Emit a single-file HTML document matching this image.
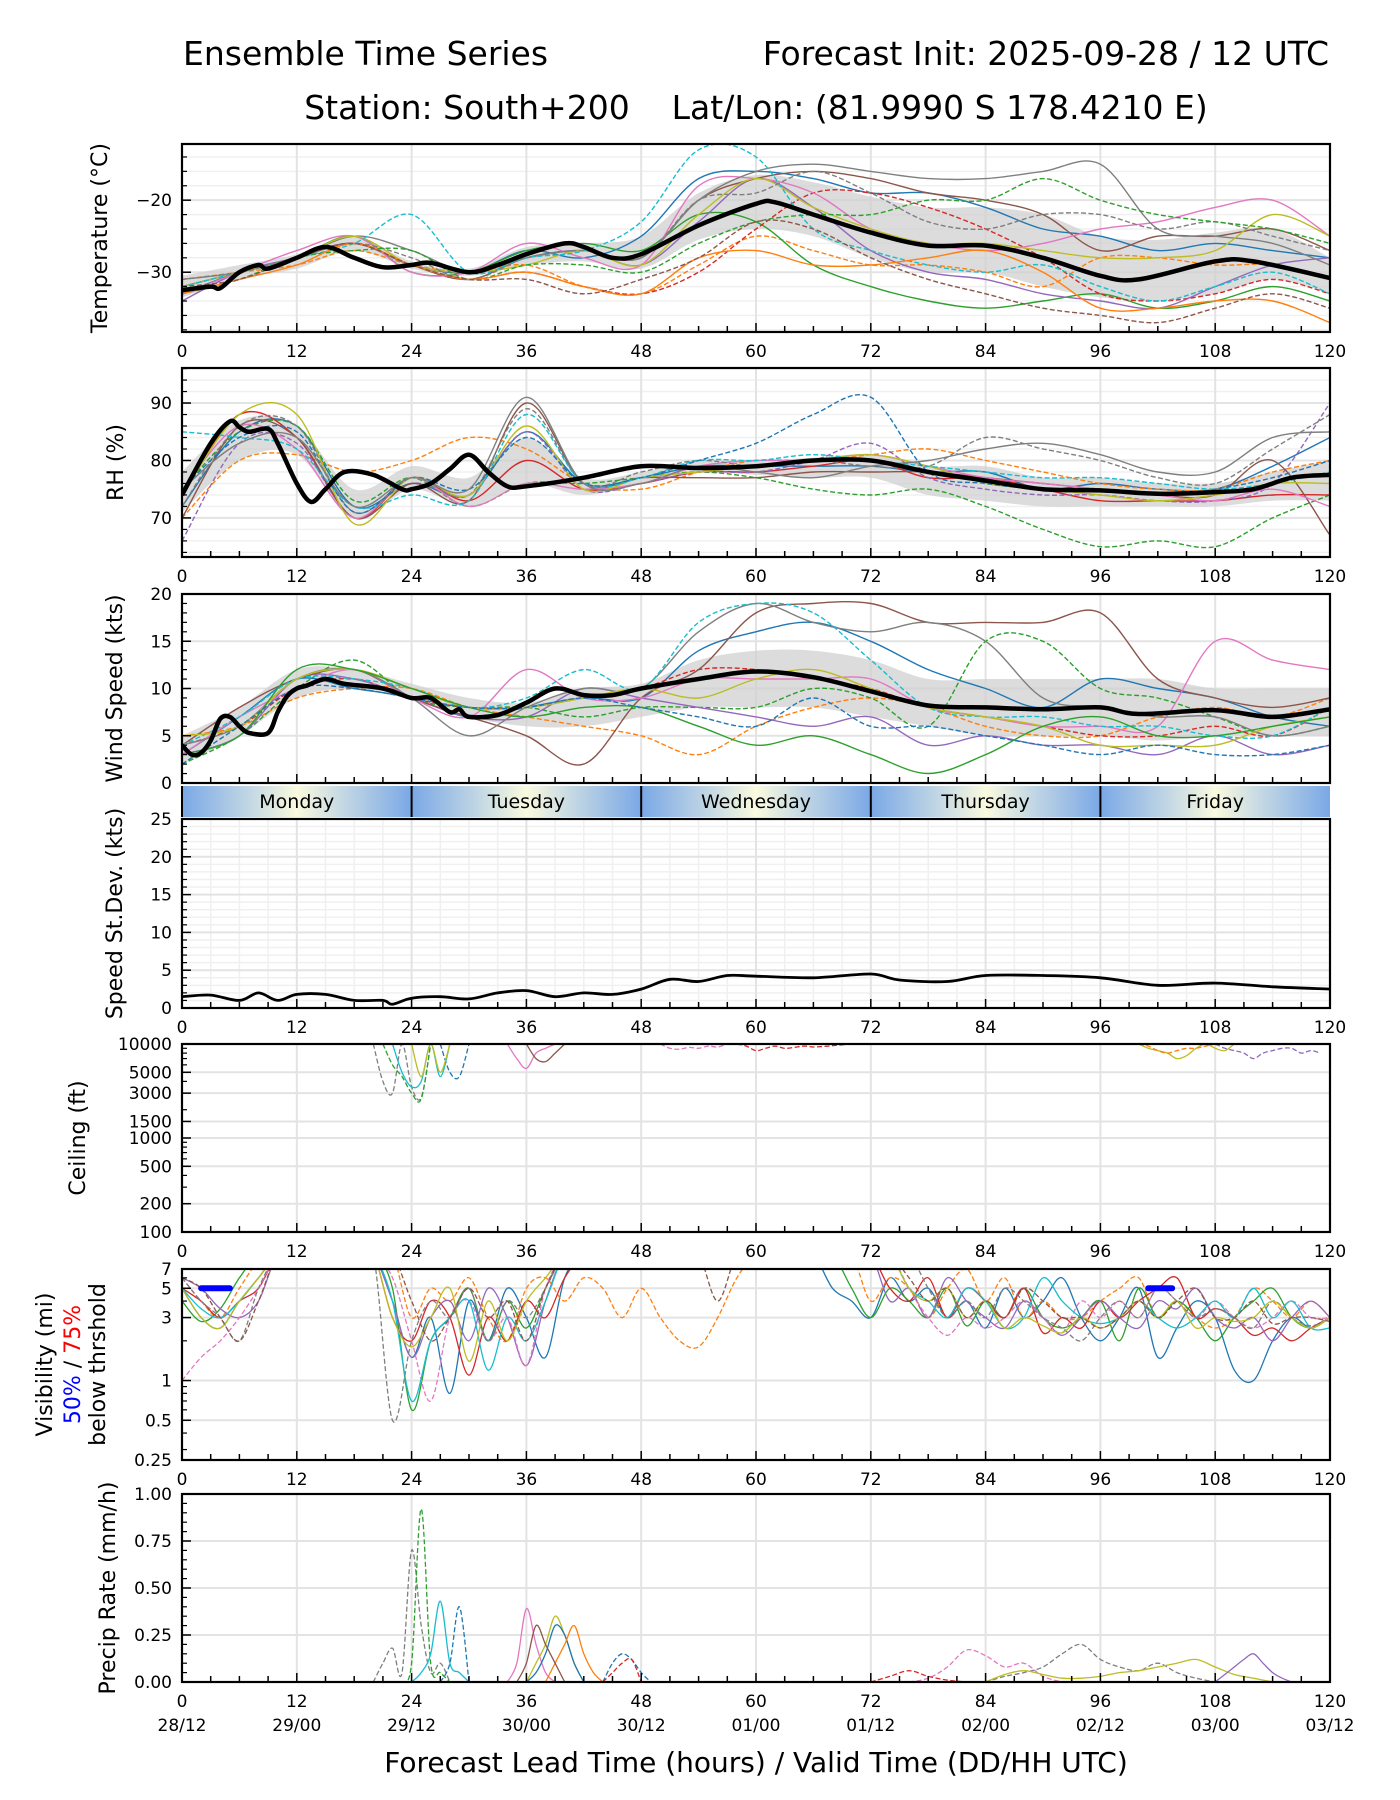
<!DOCTYPE html>
<html><head><meta charset="utf-8"><style>
html,body{margin:0;padding:0;background:#fff;}
svg{display:block;font-family:"DejaVu Sans","Liberation Sans",sans-serif;}
text{white-space:pre;}
</style></head><body>
<svg id="chart" width="1400" height="1800" viewBox="0 0 1400 1800" xmlns="http://www.w3.org/2000/svg">
<rect width="1400" height="1800" fill="#fff"/>
<text x="183" y="65" font-size="33">Ensemble Time Series</text>
<text x="1329" y="65" font-size="33" text-anchor="end">Forecast Init: 2025-09-28 / 12 UTC</text>
<text x="756" y="119" font-size="33" text-anchor="middle" xml:space="preserve">Station: South+200    Lat/Lon: (81.9990 S 178.4210 E)</text>
<g id="root"></g>
<text x="756" y="1772" font-size="28" text-anchor="middle">Forecast Lead Time (hours) / Valid Time (DD/HH UTC)</text>
</svg>
<script>
const C=['#1f77b4','#ff7f0e','#2ca02c','#d62728','#9467bd','#8c564b','#e377c2','#7f7f7f','#bcbd22','#17becf'];
// ---- Temperature (every 6h) ----
const tempMeanHours=[0,3,4,6,8,9,12,15,18,21,24,26,30,33,36,40,42,45,48,54,60,62,66,72,78,84,90,96,100,108,112,120];
const tempMean=[-32.5,-32,-32.2,-30,-29,-29.5,-28,-26.5,-28,-29.3,-29,-28.7,-30,-29,-27.5,-26,-26.5,-28,-27.5,-23.5,-20.5,-20.3,-22,-24.5,-26.3,-26.3,-28,-30.5,-31,-28.5,-28.5,-30.8];
const tempLo=[-33.5,-31,-29.5,-27,-29.5,-30.5,-29,-28.5,-29.5,-25.5,-24,-25,-28,-30,-30,-32,-33.5,-34,-33,-31,-33];
const tempHi=[-30.5,-29,-27.5,-25,-28.5,-29.5,-26.5,-26,-25,-19,-16.5,-17.5,-19.5,-21,-21,-22,-25,-25.5,-24.5,-24,-28];
const tempMembers=[
[0,0,-33,-30,-28,-26,-29,-30,-27,-28,-25,-17,-16,-17,-19,-19,-21,-24,-25,-27,-26,-27,-28],
[1,1,-31,-30,-29,-27,-29,-30,-29,-32,-33,-29,-25,-27,-29,-29,-30,-32,-28,-28,-29,-29,-31],
[2,0,-32,-30,-28,-25,-30,-30,-27,-26,-27,-22,-23,-29,-32,-34,-35,-34,-33,-35,-34,-32,-34],
[3,1,-33,-31,-28,-26,-29,-31,-30,-32,-33,-30,-24,-19,-19,-21,-24,-28,-33,-34,-33,-31,-33],
[4,0,-34,-30,-28,-26,-29,-30,-28,-27,-29,-23,-17,-21,-27,-30,-31,-33,-34,-35,-32,-29,-28],
[5,0,-32,-30,-28,-26,-29,-31,-28,-27,-28,-20,-17,-16,-17,-19,-20,-22,-27,-25,-25,-24,-27],
[6,0,-33,-30,-27,-25,-30,-30,-26,-28,-29,-18,-17,-19,-24,-26,-27,-26,-24,-23,-21,-20,-25],
[7,0,-31,-30,-28,-25,-27,-30,-28,-27,-28,-20,-16,-15,-16,-17,-17,-16,-15,-24,-25,-26,-29],
[8,0,-32,-30,-28,-25,-29,-30,-29,-27,-29,-22,-17,-21,-24,-26,-26,-27,-28,-28,-27,-22,-25],
[9,1,-32,-30,-28,-26,-22,-30,-28,-27,-23,-13,-14,-24,-27,-29,-30,-29,-32,-34,-32,-30,-33],
[7,1,-31,-30,-28,-26,-28,-31,-28,-27,-28,-20,-19,-16,-19,-23,-24,-22,-22,-24,-23,-25,-27],
[2,1,-33,-31,-28,-27,-27,-31,-29,-29,-30,-26,-23,-22,-22,-20,-20,-17,-20,-22,-23,-24,-26],
[1,0,-33,-31,-29,-26,-29,-31,-30,-32,-33,-28,-27,-29,-29,-28,-27,-30,-35,-35,-34,-34,-37],
[5,1,-32,-31,-28,-26,-29,-31,-31,-33,-31,-28,-23,-24,-28,-31,-33,-35,-36,-37,-35,-33,-35]];
// ---- RH ----
const rhMeanHours=[0,3,5,6,7,9,10,12,13.5,15,17,20,23,24,26,28,30,32,34,36,42,48,54,60,66,72,78,84,90,96,102,108,112,116,120];
const rhMean=[74,83,86.8,85.8,85,85.5,83,76,72.8,75,78,77.5,75,75,76,78.5,81,78,75.5,75.5,77,79,78.7,79,80,80,78,76.5,75,74.8,74.2,74.5,75,77,77.5];
const rhLo=[71,80,81,70,75,72,76,74,76,78,77.5,77,77,74,73,72,72,72,72,73,73];
const rhHi=[78,87,86,75,79,77,84,77,78,80,80,80.5,81,79,79,77,77,76,76,78,80];
const rhMembers=[
[0,0,72,85,86,72,76,74,85,76,77,79,79,79,79,78,78,75,76,75,75,79,84],
[1,1,70,80,81,78,80,84,82,76,75,78,80,80,81,82,80,78,76,75,75,78,80],
[2,1,75,85,86,73,77,72,76,76,77,78,77,75,74,75,72,68,65,66,65,70,74],
[3,0,74,88,84,70,77,73,80,75,76,78,78,79,80,77,77,75,73,73,73,74,74],
[4,1,66,83,83,70,76,74,85,75,76,78,78,80,83,77,75,74,74,73,73,76,90],
[5,0,70,86,84,70,76,73,90,76,77,77,77,78,78,78,77,76,75,74,74,80,67],
[6,0,75,86,82,70,77,72,76,75,76,79,80,80,81,79,77,76,75,74,73,75,72],
[7,1,72,86,86,71,77,74,89,76,78,80,79,80,79,79,84,82,80,77,76,82,88],
[8,0,74,88,88,69,77,74,86,75,77,78,79,80,81,79,76,75,74,73,74,76,76],
[9,1,85,84,82,72,74,73,88,76,77,80,80,81,80,79,78,77,77,76,75,76,78],
[0,1,75,84,85,71,77,75,84,76,77,80,83,88,91,78,76,75,75,74,75,77,80],
[7,0,75,83,84,72,77,75,91,76,76,79,78,77,79,80,82,83,81,78,78,84,85]];
// ---- Wind ----
const windMeanHours=[0,1,2,3,4,5,6,7,9,10,11,12,13,15,17,21,24,26,28,29,30,33,36,39,42,45,48,54,60,66,72,78,84,90,96,100,108,114,120];
const windMean=[4,3,3.2,4.5,6.8,7,6,5.3,5.3,7.5,9.2,10,10.3,11,10.5,10,9,9,7.5,7.8,7,7.2,8.5,10,9.3,9.3,10,11,11.8,11.2,9.7,8.2,8,7.8,8,7.3,7.7,7,7.8];
const windLo=[2,5,9,10,9,7,6,6,7,8,8,8,7,6,5,5,5,4.5,5,5,5];
const windHi=[5,8,12,12,10.5,9,8.5,10,10.5,13,14,14,13,11,11,11,11,11,10,10,10];
const windMembers=[
[0,0,3,7,11,10,9,7,8,9,9,14,16,17,15,12,10,8,11,10,9,7,6],
[1,1,5,6,9,10,10,8,7,6,5,3,6,8,9,8,6,5,5,7,8,7,9],
[2,1,2,5,10,13,9,8,8,7,8,8,8,10,9,6,15,15,10,9,7,5,6],
[3,1,4,6,10,11,9,8,8,9,10,12,12,11,10,8,7,6,5,5,6,5,8],
[4,0,3,5,11,11,9,7,7,10,9,8,7,6,7,4,5,4,4,3,5,3,4],
[5,0,4,8,11,12,9,7,5,2,9,12,18,19,19,17,17,17,18,11,9,8,9],
[6,0,3,7,10,12,9,7,12,9,9,11,11,11,11,8,7,6,6,6,15,13,12],
[7,0,4,6,11,12,9,5,8,10,10,16,19,17,16,17,15,9,8,7,7,5,6],
[9,1,4,7,11,11,10,8,9,12,10,17,19,18,13,8,7,7,6,6,5,5,8],
[8,0,5,6,11,12,10,8,8,9,10,9,11,12,10,8,7,6,4,4,4,6,7],
[2,0,3,5,12,12,10,8,7,8,8,6,4,5,3,1,3,6,7,5,5,6,7],
[0,1,2,6,10,10,9,8,8,9,8,7,6,9,6,6,5,4,3,4,3,3,4]];
// ---- Speed std dev ----
const sdHours=[0,3,6,8,10,12,15,18,21,22,24,27,30,33,36,39,42,45,48,51,54,57,60,66,72,75,80,84,90,96,102,108,114,120];
const sdVals=[1.5,1.7,1,2,1,1.8,1.8,1,1,0.5,1.3,1.5,1.2,2,2.3,1.5,2,1.8,2.5,3.8,3.5,4.3,4.2,4,4.5,3.7,3.5,4.3,4.3,4,3,3.3,2.8,2.5];
// ---- Ceiling windows: [color,dashed,startHour,stepHours,values...] ----
const ceilMembers=[
[7,1,20,1,10000,4000,3000,10000,3500,2700,10000],
[2,1,21,1,10000,6000,4500,3000,2600,10000],
[9,0,22,1,10000,5000,3500,4000,10000,4500,10000],
[0,1,27,1,10000,5000,4500,10000],
[8,0,24,1,10000,4500,10000,5000,10000],
[6,0,34,1,10000,7000,5500,8000,9000,10000],
[5,0,36,1,10000,7000,6500,8000,10000],
[8,0,100,1,10000,9000,8500,8000,7000,7500,9000,10000,9000,8500,10000],
[4,1,108,1,10000,9000,8500,8000,7000,8000,8500,9000,9000,8000,8500,8000],
[1,1,100,1,10000,9500,8500,8000,8500,9000,9000,9500,10000],
[3,1,58,1,10000,9500,8500,9000,9500,9000,9200,9500,9300,9400,9600,9800,10000],
[6,1,50,1,10000,9000,8800,9200,9000,9500,9300,10000]];
// ---- Visibility (every 2h; >7 clipped) ----
const visMembers=[
[0,0,5,3,2.5,4,6,9,9,9,9,9,9,4,1.5,3,0.8,4,2,5,3,1.5,6,9,9,9,9,9,9,9,9,9,9,9,9,9,5,4,3,6,4,5,3,4,2.5,5,3,4,6,3,2,3,5,1.5,2.5,4,3,1.2,1,2,3,2.5,3],
[1,1,6,4,3,5,8,9,9,9,9,9,9,9,3,5,4,6,3,2,5,6,4,6,5,3,5,3,2,1.8,3,6,9,9,9,9,9,9,4,6,5,3,5,7,4,6,3,4,3,3,4,5,6,3,4,3,2.5,3,5,4,3,4,3],
[2,0,4,2.8,3.5,6,9,9,9,9,9,9,9,5,0.6,2,3,5,2,4,2.5,5,9,9,9,9,9,9,9,9,9,9,9,9,9,9,9,5,3,5,4,3,5,2.6,4,3,5,3,2.5,3,4,2,5,3,4,3,2,3,4,5,3,2.5,3],
[3,0,5,4,3,4,5,9,9,9,9,9,9,3,2,4,3,1.1,3,2,4,3,6,9,9,9,9,9,9,9,9,9,9,9,9,9,9,9,9,5,4,6,3,5,4,3,5,2.3,3,2.5,4,3,4,5,6,3,3.5,3,2.2,2.5,2,2.5,3],
[4,0,6,5,3.5,3,4,9,9,9,9,9,9,4,1.5,3,4,2,5,3,1.3,4,9,9,9,9,9,9,9,9,9,9,9,9,9,9,9,9,9,4,5,3,6,4,3,2.5,4,3,2.2,3,4,3,2.5,4,3.5,5,3,2.5,3,2,3,4,3],
[6,1,1,1.5,2,3,5,9,9,9,9,9,9,6,2,0.7,3,4,2,3,1.3,5,9,9,9,9,9,9,9,9,9,9,9,9,9,9,9,9,9,9,5,3,2.2,3,2.5,3,4,3,2.3,4,3,4,3,5,4,3,4,3,2.5,3,4,3,3],
[9,0,5,3.5,3,4,6,9,9,9,9,9,9,4,0.7,2,3,4,1.2,3,2,4,9,9,9,9,9,9,9,9,9,9,9,9,9,9,9,9,9,9,5,4,3,5,4,2.5,3,6,4,3,2.7,3,4,3,2.5,3,4,3,5,3,4,2.5,2.5],
[7,1,6,4,3,2,5,9,9,9,9,9,9,0.5,2,4,3,5,2,4,3,5,9,9,9,9,9,9,9,9,9,9,9,9,9,9,9,9,9,9,9,5,3,4,3,5,4,3,2.5,2,3,4,3,5,4,3,3.5,3,2.5,4,3,2.6,3],
[8,0,5,3,2.5,4,6,9,9,9,9,9,9,3,1.8,3,5,1.4,4,2,4,6,9,9,9,9,9,9,9,9,9,9,9,9,9,9,9,9,9,9,5,4,5,3,4,2.5,3,2.6,2.3,3,2.5,3,4,3,4,2.5,3,2.8,3,4,3,2.5,3],
[5,1,6,5,3,2,4,9,9,9,9,9,9,9,4,2,3,5,3,4,2,5,9,9,9,9,9,9,9,9,4,9,9,9,9,9,9,9,9,9,6,4,5,3,4,3,5,4,3,3,2.5,3,4,3,4,5,3,3,4,2.7,3,3,2.8]];
const visThreshStart=[2,101];
const visThreshEnd=[5,103.5];
const visThreshVal=[5,5];
// ---- Precip windows: [color,dashed,startHour,stepHours,values...] ----
const precipMembers=[
[7,1,20,1,0,0.1,0.18,0.05,0.7,0.3,0.05,0.1,0],
[2,1,23,1,0,0.1,0.92,0.1,0.05,0],
[9,0,24,1,0,0.05,0.15,0.43,0.1,0.05,0],
[0,1,27,1,0,0.1,0.4,0],
[6,0,34,1,0,0.1,0.39,0.2,0.05,0],
[8,0,36,1,0,0.1,0.2,0.35,0.25,0.1,0],
[0,0,36,1,0,0.05,0.15,0.3,0.25,0.1,0],
[1,0,38,1,0,0.1,0.2,0.3,0.15,0.05,0],
[5,0,35,1,0,0.1,0.3,0.2,0.1,0],
[0,1,44,1,0,0.1,0.15,0.12,0.05,0],
[3,1,44,1,0,0.05,0.1,0.12,0],
[6,1,76,2,0,0.02,0.08,0.17,0.14,0.08,0.1,0.03,0],
[7,1,84,2,0,0.03,0.05,0.08,0.15,0.2,0.12,0.08,0.06,0.1,0.05,0.02,0],
[8,0,84,2,0,0.04,0.06,0.04,0.02,0.02,0.03,0.05,0.06,0.08,0.1,0.12,0.08,0.04,0.02,0],
[4,0,108,1,0,0.04,0.08,0.12,0.15,0.1,0.05,0.02,0],
[3,1,72,2,0,0.03,0.06,0.03,0.01,0]];
const days=['Monday','Tuesday','Wednesday','Thursday','Friday'];
const dateLabels=['28/12','29/00','29/12','30/00','30/12','01/00','01/12','02/00','02/12','03/00','03/12'];

const NS='http://www.w3.org/2000/svg';
const root=document.getElementById('root');
const X0=182,X1=1330;
const xs=h=>X0+h*(X1-X0)/120;
function mk(tag,attrs,parent){const e=document.createElementNS(NS,tag);for(const k in attrs)e.setAttribute(k,attrs[k]);(parent||root).appendChild(e);return e;}
function smooth(pts){if(!pts.length)return'';let d='M'+pts[0][0].toFixed(1)+','+pts[0][1].toFixed(1);
for(let i=0;i<pts.length-1;i++){const p0=pts[Math.max(0,i-1)],p1=pts[i],p2=pts[i+1],p3=pts[Math.min(pts.length-1,i+2)];
const c1x=p1[0]+(p2[0]-p0[0])/6,c1y=p1[1]+(p2[1]-p0[1])/6,c2x=p2[0]-(p3[0]-p1[0])/6,c2y=p2[1]-(p3[1]-p1[1])/6;
d+='C'+c1x.toFixed(1)+','+c1y.toFixed(1)+' '+c2x.toFixed(1)+','+c2y.toFixed(1)+' '+p2[0].toFixed(1)+','+p2[1].toFixed(1);}return d;}

const panels={
temp:{top:144,bot:332,min:-38.3,max:-12.2,log:false,major:[-30,-20],labels:['\u221230','\u221220'],minor:[-38,-36,-34,-32,-28,-26,-24,-22,-18,-16,-14],title:['Temperature (°C)'],tx:107},
rh:{top:368,bot:557,min:63.2,max:96.1,log:false,major:[70,80,90],labels:['70','80','90'],minor:[64,66,68,72,74,76,78,82,84,86,88,92,94,96],title:['RH (%)'],tx:123},
wind:{top:594,bot:783,min:0,max:20,log:false,major:[0,5,10,15,20],labels:['0','5','10','15','20'],minor:[1,2,3,4,6,7,8,9,11,12,13,14,16,17,18,19],title:['Wind Speed (kts)'],tx:122,noMinorGrid:true},
sd:{top:819,bot:1008,min:0,max:25,log:false,major:[0,5,10,15,20,25],labels:['0','5','10','15','20','25'],minor:[1,2,3,4,6,7,8,9,11,12,13,14,16,17,18,19,21,22,23,24],title:['Speed St.Dev. (kts)'],tx:122,vminor:true},
ceil:{top:1044,bot:1232,min:100,max:10000,log:true,major:[100,200,500,1000,1500,3000,5000,10000],labels:['100','200','500','1000','1500','3000','5000','10000'],minor:[300,400,600,700,800,900,2000,4000,6000,7000,8000,9000],title:['Ceiling (ft)'],tx:85,noMinorGrid:true},
vis:{top:1269,bot:1460,min:0.25,max:7,log:true,major:[0.25,0.5,1,3,5,7],labels:['0.25','0.5','1','3','5','7'],minor:[0.3,0.4,0.6,0.7,0.8,0.9,2,4,6],title:[],tx:0,noMinorGrid:true},
pr:{top:1494,bot:1682,min:0,max:1,log:false,major:[0,0.25,0.5,0.75,1],labels:['0.00','0.25','0.50','0.75','1.00'],minor:[0.05,0.1,0.15,0.2,0.3,0.35,0.4,0.45,0.55,0.6,0.65,0.7,0.8,0.85,0.9,0.95],title:['Precip Rate (mm/h)'],tx:115,noMinorGrid:true}};
function ys(p,v){if(p.log){const t=(Math.log(v)-Math.log(p.min))/(Math.log(p.max)-Math.log(p.min));return p.bot-t*(p.bot-p.top);}return p.bot-(v-p.min)/(p.max-p.min)*(p.bot-p.top);}

let clipN=0;
function axes(name,p){
 const g=mk('g',{});
 if(p.vminor){for(let h=3;h<120;h+=3){if(h%12)mk('line',{x1:xs(h),x2:xs(h),y1:p.top,y2:p.bot,stroke:'#f0f0f0','stroke-width':1.5},g);}}
 if(!p.noMinorGrid){p.minor.forEach(v=>mk('line',{x1:X0,x2:X1,y1:ys(p,v),y2:ys(p,v),stroke:'#f0f0f0','stroke-width':1.5},g));}
 p.major.forEach(v=>mk('line',{x1:X0,x2:X1,y1:ys(p,v),y2:ys(p,v),stroke:'#e3e3e3','stroke-width':2},g));
 for(let h=12;h<120;h+=12)mk('line',{x1:xs(h),x2:xs(h),y1:p.top,y2:p.bot,stroke:'#e3e3e3','stroke-width':2},g);
 const cid='clip'+(clipN++);const cp=mk('clipPath',{id:cid},g);mk('rect',{x:X0,y:p.top,width:X1-X0,height:p.bot-p.top},cp);
 const data=mk('g',{'clip-path':'url(#'+cid+')'},g);
 p.g=g;p.data=data;return g;}
function frame(name,p,noX){const g=p.g;
 mk('rect',{x:X0,y:p.top,width:X1-X0,height:p.bot-p.top,fill:'none',stroke:'#000','stroke-width':2.2},g);
 for(let h=3;h<120;h+=3){const L=h%12?6:9;mk('line',{x1:xs(h),x2:xs(h),y1:p.bot,y2:p.bot-L,stroke:'#000','stroke-width':1.5},g);}
 p.major.forEach((v,i)=>{const y=ys(p,v);mk('line',{x1:X0,x2:X0+9,y1:y,y2:y,stroke:'#000','stroke-width':1.5},g);
  const t=mk('text',{x:X0-10,y:y+6,'font-size':17,'text-anchor':'end'},g);t.textContent=p.labels[i];
  });
 p.minor.forEach(v=>{const y=ys(p,v);mk('line',{x1:X0,x2:X0+5,y1:y,y2:y,stroke:'#000','stroke-width':1.2},g);});
 if(!noX){for(let h=0;h<=120;h+=12){const t=mk('text',{x:xs(h),y:p.bot+25,'font-size':17,'text-anchor':'middle'},g);t.textContent=h;
  }}
 if(p.title.length){const cy=(p.top+p.bot)/2;const t=mk('text',{x:p.tx,y:cy,'font-size':22,'text-anchor':'middle',transform:'rotate(-90 '+p.tx+' '+cy+')'},g);
  t.textContent=p.title[0];}
}
function memberPath(p,col,dash,pts,name,w){const e=mk('path',{d:smooth(pts),fill:'none',stroke:C[col],'stroke-width':w||1.4,'stroke-dasharray':dash?'5,2.5':'none'},p.data);
 return e;}
function ensemble(name,p,members,lo,hi,mh,mv){
 const up=hi.map((v,i)=>[xs(i*6),ys(p,v)]),dn=lo.map((v,i)=>[xs(i*6),ys(p,v)]).reverse();
 const band=mk('path',{d:smooth(up)+'L'+smooth(dn).slice(1)+'Z',fill:'#d0d0d0','fill-opacity':0.75,stroke:'none'},p.data);
 
 members.forEach(m=>{const vals=m.slice(2);memberPath(p,m[0],m[1],vals.map((v,i)=>[xs(i*120/(vals.length-1)),ys(p,v)]),name+'-member');});
 const mean=mk('path',{d:smooth(mh.map((h,i)=>[xs(h),ys(p,mv[i])])),fill:'none',stroke:'#000','stroke-width':4.5,'stroke-linejoin':'round'},p.data);
 }
function windows(name,p,members){members.forEach(m=>{const vals=m.slice(4);memberPath(p,m[0],m[1],vals.map((v,i)=>[xs(m[2]+i*m[3]),ys(p,v)]),name+'-member',1.3);});}

axes('temperature',panels.temp);ensemble('temperature',panels.temp,tempMembers,tempLo,tempHi,tempMeanHours,tempMean);frame('temperature',panels.temp);
axes('rh',panels.rh);ensemble('rh',panels.rh,rhMembers,rhLo,rhHi,rhMeanHours,rhMean);frame('rh',panels.rh);
axes('wind',panels.wind);ensemble('wind',panels.wind,windMembers,windLo,windHi,windMeanHours,windMean);frame('wind',panels.wind,true);
// day bar
{const defs=mk('defs',{});const gr=mk('linearGradient',{id:'dayg',x1:0,x2:1,y1:0,y2:0},defs);
 [['0','#7aa8e6'],['0.3','#c4d8e4'],['0.5','#fafade'],['0.7','#c4d8e4'],['1','#7aa8e6']].forEach(s=>mk('stop',{offset:s[0],'stop-color':s[1]},gr));
 const g=mk('g',{});
 days.forEach((d,i)=>{const r=mk('rect',{x:xs(i*24),y:786,width:xs(24)-xs(0),height:31,fill:'url(#dayg)'},g);
  
  const t=mk('text',{x:xs(i*24+12),y:808,'font-size':19,'text-anchor':'middle'},g);t.textContent=d;
  
  if(i>0)mk('line',{x1:xs(i*24),x2:xs(i*24),y1:786,y2:817,stroke:'#000','stroke-width':2},g);});
 mk('line',{x1:X0,x2:X0,y1:786,y2:817,stroke:'#000','stroke-width':2},g);}
axes('speed-stdev',panels.sd);
{const p=panels.sd;const e=mk('path',{d:smooth(sdHours.map((h,i)=>[xs(h),ys(p,sdVals[i])])),fill:'none',stroke:'#000','stroke-width':2.8},p.data);
 }
frame('speed-stdev',panels.sd);
axes('ceiling',panels.ceil);windows('ceiling',panels.ceil,ceilMembers);frame('ceiling',panels.ceil);
axes('visibility',panels.vis);
{const p=panels.vis;visMembers.forEach(m=>{const vals=m.slice(2);memberPath(p,m[0],m[1],vals.map((v,i)=>[xs(i*2),ys(p,v)]),'visibility-member',1.3);});
 visThreshStart.forEach((s,i)=>{const l=mk('line',{x1:xs(s),x2:xs(visThreshEnd[i]),y1:ys(p,visThreshVal[i]),y2:ys(p,visThreshVal[i]),stroke:'#0000ff','stroke-width':6,'stroke-linecap':'round'},p.data);
  });}
frame('visibility',panels.vis);
{const g=panels.vis.g;const cy=(1269+1460)/2;
 const t1=mk('text',{x:52,y:cy,'font-size':22,'text-anchor':'middle',transform:'rotate(-90 52 '+cy+')'},g);t1.textContent='Visibility (mi)';
 
 const t2=mk('text',{x:80,y:cy,'font-size':22,'text-anchor':'middle',transform:'rotate(-90 80 '+cy+')'},g);
 
 const a=mk('tspan',{fill:'#0000ff'},t2);a.textContent='50%';const b=mk('tspan',{fill:'#000'},t2);b.textContent=' / ';const c=mk('tspan',{fill:'#ff0000'},t2);c.textContent='75%';
 const t3=mk('text',{x:105,y:cy,'font-size':22,'text-anchor':'middle',transform:'rotate(-90 105 '+cy+')'},g);t3.textContent='below thrshold';
 }
axes('precip',panels.pr);windows('precip',panels.pr,precipMembers);frame('precip',panels.pr);
dateLabels.forEach((d,i)=>{const t=mk('text',{x:xs(i*12),y:1731,'font-size':17,'text-anchor':'middle'});t.textContent=d;
 });
</script>
</body></html>
